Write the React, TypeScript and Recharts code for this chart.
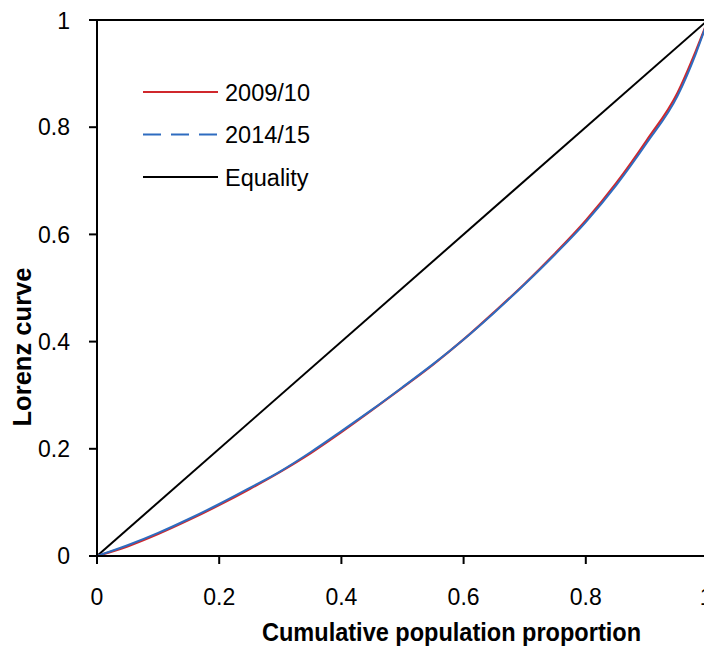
import React from 'react';
import { LineChart, Line, XAxis, YAxis, ReferenceLine, Legend } from 'recharts';

const populationShare = [0, 0.05, 0.1, 0.15, 0.2, 0.25, 0.3, 0.35, 0.4, 0.45, 0.5, 0.55, 0.6, 0.65, 0.7, 0.75, 0.8, 0.85, 0.9, 0.95, 0.98, 1];
const lorenz2009 = [0, 0.018, 0.041, 0.067, 0.095, 0.125, 0.157, 0.192, 0.231, 0.272, 0.314, 0.357, 0.404, 0.455, 0.508, 0.565, 0.626, 0.696, 0.776, 0.864, 0.942, 1];
const lorenz2014 = [0, 0.02, 0.043, 0.069, 0.097, 0.127, 0.158, 0.194, 0.233, 0.273, 0.315, 0.358, 0.404, 0.454, 0.507, 0.563, 0.623, 0.692, 0.771, 0.858, 0.937, 1];
const equalityX = [0, 1];
const equalityY = [0, 1];
const axisTicks = [0, 0.2, 0.4, 0.6, 0.8, 1];
const tickLabels = ['0', '0.2', '0.4', '0.6', '0.8', '1'];
const seriesNames = ['2009/10', '2014/15', 'Equality'];

const RED = '#d0282c';
const BLUE = '#2e6cc0';
const FONT = '"Liberation Sans", Arial, sans-serif';

const data09 = populationShare.map((x, i) => ({ x, y: lorenz2009[i] }));
const data14 = populationShare.map((x, i) => ({ x, y: lorenz2014[i] }));
const dataEq = equalityX.map((x, i) => ({ x, y: equalityY[i] }));

const fmt = (v: number) => {
  const i = axisTicks.indexOf(v);
  return i >= 0 ? tickLabels[i] : String(v);
};

const renderLegend = () => {
  const styles = [
    { stroke: RED, dash: undefined },
    { stroke: BLUE, dash: '18 10' },
    { stroke: '#000', dash: undefined },
  ];
  return (
    <svg width={220} height={120} style={{ display: 'block' }}>
      {seriesNames.map((name, i) => (
        <g key={name}>
          <line x1={0} x2={75} y1={12 + i * 42.5} y2={12 + i * 42.5} stroke={styles[i].stroke} strokeWidth={2} strokeDasharray={styles[i].dash} />
          <text x={82} y={12 + i * 42.5 + 8.5} fontSize={23.5} fontFamily={FONT} fill="#000">{name}</text>
        </g>
      ))}
    </svg>
  );
};

const XTitle = (props: any) => {
  const vb = props.viewBox;
  return (
    <text x={vb.x + vb.width / 2 + 49} y={vb.y + 85} textAnchor="middle" fontSize={26} fontWeight="bold" fontFamily={FONT} textLength={379} lengthAdjust="spacingAndGlyphs" fill="#000">
      Cumulative population proportion
    </text>
  );
};

const YTitle = (props: any) => {
  const vb = props.viewBox;
  const cx = 23;
  const cy = vb.y + vb.height / 2 + 59;
  return (
    <text x={cx} y={cy} transform={`rotate(-90 ${cx} ${cy})`} textAnchor="middle" fontSize={26} fontWeight="bold" fontFamily={FONT} textLength={159} lengthAdjust="spacingAndGlyphs" fill="#000">
      Lorenz curve
    </text>
  );
};

export default function App() {
  return (
    <LineChart width={704} height={640} margin={{ top: 12, right: 4, bottom: 32, left: 0 }}>
      <XAxis
        type="number"
        dataKey="x"
        domain={[0, 1]}
        ticks={axisTicks}
        tickFormatter={fmt}
        height={60}
        axisLine={{ stroke: '#000', strokeWidth: 2 }}
        tickLine={{ stroke: '#000', strokeWidth: 2 }}
        tickSize={8}
        tickMargin={25}
        tick={{ fill: '#000', fontSize: 23, fontFamily: FONT }}
        label={<XTitle />}
        allowDuplicatedCategory={false}
      />
      <YAxis
        type="number"
        dataKey="y"
        domain={[0, 1]}
        ticks={axisTicks}
        tickFormatter={fmt}
        width={89}
        axisLine={{ stroke: '#000', strokeWidth: 2 }}
        tickLine={{ stroke: '#000', strokeWidth: 2 }}
        tickSize={8}
        tickMargin={19}
        tick={{ fill: '#000', fontSize: 23, fontFamily: FONT }}
        label={<YTitle />}
      />
      <ReferenceLine y={1} stroke="#000" strokeWidth={2} />
      <ReferenceLine x={1} stroke="#000" strokeWidth={2} />
      <Line data={dataEq} dataKey="y" stroke="#000" strokeWidth={2} dot={false} type="linear" isAnimationActive={false} name={seriesNames[2]} />
      <Line data={data09} dataKey="y" stroke={RED} strokeWidth={2.2} dot={false} type="monotone" isAnimationActive={false} name={seriesNames[0]} />
      <Line data={data14} dataKey="y" stroke={BLUE} strokeWidth={2} dot={false} type="monotone" isAnimationActive={false} name={seriesNames[1]} />
      <Legend content={renderLegend} layout="vertical" verticalAlign="middle" align="center" wrapperStyle={{ position: 'absolute', left: 135, top: 72, width: 220, height: 120 }} />
    </LineChart>
  );
}
